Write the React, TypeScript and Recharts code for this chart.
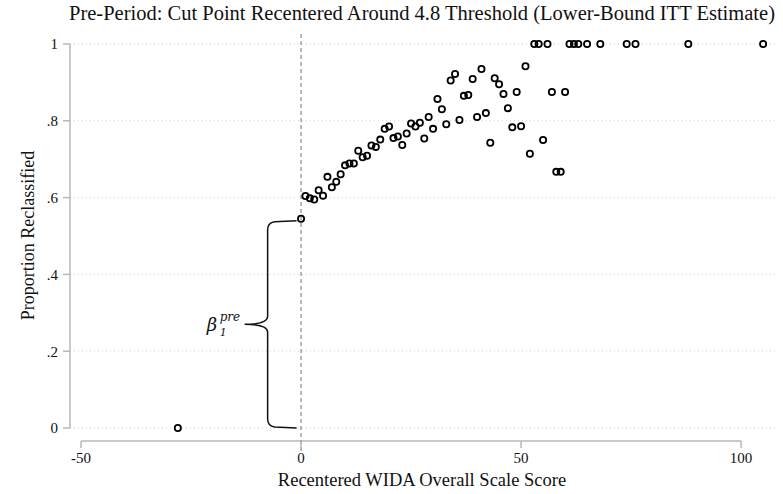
import { CartesianGrid, ReferenceLine, Scatter, ScatterChart, XAxis, YAxis } from "recharts";

const chartTitle = "Pre-Period: Cut Point Recentered Around 4.8 Threshold (Lower-Bound ITT Estimate)";
const xAxisTitle = "Recentered WIDA Overall Scale Score";
const yAxisTitle = "Proportion Reclassified";

const xTicks = [-50, 0, 50, 100];
const yTicks = [0, 0.2, 0.4, 0.6, 0.8, 1];

// recentered score (0 = cut point)
const scores = [
	-28, 0, 1, 2, 3, 4, 5, 6, 7, 8, 9, 10, 11, 12, 13, 14, 15, 16, 17, 18, 19, 20, 21, 22, 23, 24, 25, 26,
	27, 28, 29, 30, 31, 32, 33, 34, 35, 36, 37, 38, 39, 40, 41, 42, 43, 44, 45, 46, 47, 48, 49, 50, 51, 52,
	53, 54, 55, 56, 57, 58, 59, 60, 61, 62, 63, 65, 68, 74, 76, 88, 105,
];
const proportions = [
	0, 0.545, 0.604, 0.598, 0.595, 0.619, 0.605, 0.654, 0.627, 0.641, 0.661, 0.684, 0.689, 0.689, 0.722,
	0.705, 0.709, 0.736, 0.732, 0.751, 0.779, 0.785, 0.755, 0.759, 0.737, 0.767, 0.793, 0.785, 0.795, 0.754,
	0.81, 0.779, 0.857, 0.83, 0.791, 0.905, 0.922, 0.802, 0.865, 0.867, 0.909, 0.81, 0.935, 0.82, 0.743,
	0.911, 0.895, 0.87, 0.833, 0.783, 0.875, 0.786, 0.942, 0.714, 1, 1, 0.75, 1, 0.875, 0.667, 0.667, 0.875,
	1, 1, 1, 1, 1, 1, 1, 1, 1,
];

// brace annotation: jump at the cut point
const jumpTop = 0.54;
const braceX = -1;

const FONT = "'Liberation Serif', 'Times New Roman', serif";
const AXIS_GRAY = "#b8b8b8";

const data = scores.map((s, i) => ({ score: s, prop: proportions[i] }));

function fmtY(v: number) {
	if (v === 0 || v === 1) return String(v);
	return String(v).replace(/^0/, "");
}

function HollowDot(props: any) {
	const { cx, cy } = props;
	if (cx == null || cy == null) return null;
	return <circle cx={cx} cy={cy} r={3.1} fill="none" stroke="#000" strokeWidth={1.8} />;
}

// x axis is drawn offset below the plot region, Stata style
function XTick(props: any) {
	const { x, y, payload } = props;
	return (
		<g>
			<line x1={x} x2={x} y1={y + 13} y2={y + 20} stroke={AXIS_GRAY} strokeWidth={1.5} />
			<text x={x} y={y + 35} textAnchor="middle" fontFamily={FONT} fontSize={15} fill="#111">
				{payload.value}
			</text>
		</g>
	);
}

function OffsetAxisLine(props: any) {
	const { x1, x2, y1 } = props;
	return <line x1={x1} x2={x2} y1={y1 + 13} y2={y1 + 13} stroke={AXIS_GRAY} strokeWidth={1.5} />;
}

function CutLine(props: any) {
	const { x1, y1, y2 } = props;
	const top = Math.min(y1, y2);
	const bot = Math.max(y1, y2);
	return (
		<line x1={x1} x2={x1} y1={top - 10} y2={bot + 24} stroke="#8a8a8a" strokeWidth={1.2} strokeDasharray="4 3" />
	);
}

function Brace(props: any) {
	const { x1, y1, y2 } = props;
	const T = Math.min(y1, y2);
	const B = Math.max(y1, y2);
	const M = (T + B) / 2;
	const R = x1;
	const S = R - 29;
	const P = S - 23;
	const d = [
		`M ${R} ${T}`,
		`L ${S + 7} ${T + 1}`,
		`Q ${S} ${T + 2} ${S} ${T + 9}`,
		`L ${S} ${M - 8}`,
		`Q ${S} ${M} ${P} ${M}`,
		`Q ${S} ${M} ${S} ${M + 8}`,
		`L ${S} ${B - 9}`,
		`Q ${S} ${B - 2} ${S + 7} ${B - 1}`,
		`L ${R} ${B}`,
	].join(" ");
	return (
		<g>
			<path d={d} fill="none" stroke="#111" strokeWidth={1.5} />
			<text x={P - 38} y={M + 7} fontFamily="'DejaVu Serif', serif" fontStyle="italic" fontSize={18} fill="#111">
				β
			</text>
			<text x={P - 25} y={M + 12} fontFamily="'DejaVu Serif', serif" fontStyle="italic" fontSize={11} fill="#111">
				1
			</text>
			<text x={P - 25} y={M - 3} fontFamily="'DejaVu Serif', serif" fontStyle="italic" fontSize={12} fill="#111">
				pre
			</text>
		</g>
	);
}

export default function App() {
	return (
		<div style={{ position: "absolute", left: 0, top: 0, width: 783, height: 494, background: "#fff" }}>
			<ScatterChart width={783} height={494} margin={{ top: 44, right: 8, left: 0, bottom: 6 }}>
				<CartesianGrid vertical={false} stroke="#cfcfcf" strokeDasharray="1 3" />
				<XAxis
					type="number"
					dataKey="score"
					domain={[-52.5, 107.7]}
					ticks={xTicks}
					axisLine={false}
					tickLine={false}
					tickSize={0}
					tickMargin={0}
					height={60}
					tick={<XTick />}
				/>
				<YAxis
					type="number"
					dataKey="prop"
					domain={[0, 1]}
					ticks={yTicks}
					width={70}
					tickFormatter={fmtY}
					tickSize={7}
					tickMargin={5}
					axisLine={{ stroke: AXIS_GRAY, strokeWidth: 1.5 }}
					tickLine={{ stroke: AXIS_GRAY, strokeWidth: 1.5 }}
					tick={{ fontFamily: FONT, fontSize: 15, fill: "#111" }}
				/>
				<ReferenceLine
					segment={[
						{ x: -50, y: 0 },
						{ x: 100, y: 0 },
					]}
					shape={<OffsetAxisLine />}
				/>
				<ReferenceLine x={0} shape={<CutLine />} />
				<ReferenceLine
					segment={[
						{ x: braceX, y: jumpTop },
						{ x: braceX, y: 0 },
					]}
					shape={<Brace />}
				/>
				<Scatter data={data} shape={<HollowDot />} isAnimationActive={false} />
			</ScatterChart>
			<div
				style={{
					position: "absolute",
					left: 22,
					top: 2,
					width: 800,
					textAlign: "center",
					fontFamily: FONT,
					fontSize: 20.5,
					color: "#111",
					whiteSpace: "nowrap",
				}}
			>
				{chartTitle}
			</div>
			<div
				style={{
					position: "absolute",
					left: 222,
					top: 470,
					width: 400,
					textAlign: "center",
					fontFamily: FONT,
					fontSize: 18.5,
					color: "#111",
					whiteSpace: "nowrap",
				}}
			>
				{xAxisTitle}
			</div>
			<div
				style={{
					position: "absolute",
					left: 28,
					top: 237,
					width: 0,
					height: 0,
				}}
			>
				<div
					style={{
						position: "absolute",
						left: -100,
						top: -12,
						width: 200,
						textAlign: "center",
						transform: "rotate(-90deg)",
						fontFamily: FONT,
						fontSize: 18,
						color: "#111",
						whiteSpace: "nowrap",
					}}
				>
					{yAxisTitle}
				</div>
			</div>
		</div>
	);
}
